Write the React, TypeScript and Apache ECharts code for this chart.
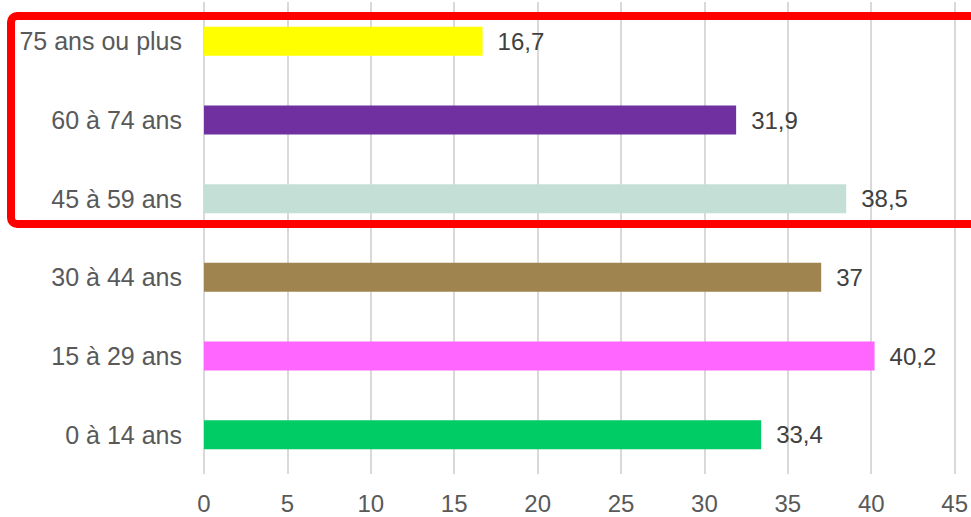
import React, { useEffect, useRef } from "react";
import * as echarts from "echarts";

const categories = ["0 à 14 ans", "15 à 29 ans", "30 à 44 ans", "45 à 59 ans", "60 à 74 ans", "75 ans ou plus"];
const values = [33.4, 40.2, 37, 38.5, 31.9, 16.7];
const colors = ["#00CC66", "#FF66FF", "#A0844F", "#C4E0D6", "#7030A0", "#FFFF00"];
const xTicks = { min: 0, max: 45, interval: 5 };

export default function App() {
  const ref = useRef<HTMLDivElement>(null);
  useEffect(() => {
    if (!ref.current) return;
    const chart = echarts.init(ref.current, undefined, { renderer: "svg" });
    const font = "'Liberation Sans', Arial, sans-serif";
    chart.setOption({
      animation: false,
      grid: { left: 204, right: 16, top: 2, bottom: 43, containLabel: false },
      xAxis: {
        type: "value",
        min: xTicks.min,
        max: xTicks.max,
        interval: xTicks.interval,
        axisLine: { show: false },
        axisTick: { show: false },
        splitLine: { show: true, lineStyle: { color: "#D9D9D9", width: 2 } },
        axisLabel: { color: "#595959", fontSize: 24, fontFamily: font, margin: 17 },
      },
      yAxis: {
        type: "category",
        data: categories,
        axisLine: { show: false },
        axisTick: { show: false },
        axisLabel: { color: "#595959", fontSize: 25, fontFamily: font, margin: 22 },
      },
      series: [
        {
          type: "bar",
          barWidth: 29,
          data: values.map((v, i) => ({ value: v, itemStyle: { color: colors[i] } })),
          label: {
            show: true,
            position: "right",
            distance: 15,
            color: "#404040",
            fontSize: 24,
            fontFamily: font,
            formatter: (p: any) => String(p.value).replace(".", ","),
          },
        },
      ],
      graphic: [
        {
          type: "rect",
          z: 100,
          shape: { x: 11, y: 16, width: 990, height: 208, r: 6 },
          style: { fill: "none", stroke: "#FF0000", lineWidth: 8 },
        },
      ],
    });
    return () => chart.dispose();
  }, []);
  return (
    <div
      ref={ref}
      style={{ position: "absolute", left: 0, top: 0, width: 971, height: 517, background: "#fff" }}
    />
  );
}
